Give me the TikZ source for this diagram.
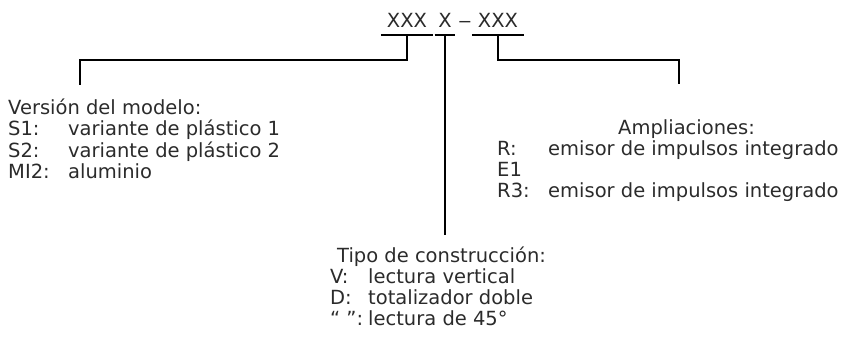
\documentclass[tikz,border=0pt]{standalone}
\usepackage{fontspec}
\setmainfont{DejaVu Sans}
\usepackage{array}
\usetikzlibrary{positioning}
\definecolor{codeInk}{HTML}{2B2B2B}

\begin{document}
\begin{tikzpicture}[x=1pt,y=-1pt,font=\fontsize{19.5}{21}\selectfont,
    bar/.style={line width=2pt},
    part/.style={anchor=base,inner xsep=6pt,inner ysep=8pt,text=codeInk},
    info/.style={anchor=base west,inner sep=0pt,text=codeInk}]
  \useasboundingbox (0,0) rectangle (848,341);
  % type code, one node per part
  \node[part] (model) at (407,27) {XXX};
  \node[part,inner xsep=3.5pt] (build) at (445,27) {X};
  \node[part,inner xsep=0pt] (dash) at (465,27) {\scalebox{1.4}[1]{--}};
  \node[part] (ext) at (498,27) {XXX};
  \draw[bar] (model.south west) -- (model.south east);
  \draw[bar] (build.south west) -- (build.south east);
  \draw[bar] (ext.south west) -- (ext.south east);
  % brackets down to the explanations
  \coordinate (modelfoot) at (80,85);
  \coordinate (buildfoot) at (445,235);
  \coordinate (extfoot) at (679,84);
  \draw[bar] (model.south) -- ++(0,25) -| (modelfoot);
  \draw[bar] (build.south) -- (buildfoot);
  \draw[bar] (ext.south) -- ++(0,25) -| (extfoot);
  % explanations
  \node[info] (modelinfo) at (8,114) {\begin{tabular}[t]{@{}p{60pt}@{}l@{}}
      \multicolumn{2}{@{}l@{}}{Versión del modelo:}\\
      S1: & variante de plástico 1\\
      S2: & variante de plástico 2\\
      MI2: & aluminio
    \end{tabular}};
  \node[info] (extinfo) at (497,134) {\begin{tabular}[t]{@{}p{51pt}@{}l@{}}
      \multicolumn{2}{@{\hspace{121pt}}l@{}}{Ampliaciones:}\\
      R: & emisor de impulsos integrado\\
      E1 & \\
      R3: & emisor de impulsos integrado
    \end{tabular}};
  \node[info] (buildinfo) at (330,262) {\begin{tabular}[t]{@{}p{38pt}@{}l@{}}
      \multicolumn{2}{@{\hspace{7pt}}l@{}}{Tipo de construcción:}\\
      V: & lectura vertical\\
      D: & totalizador doble\\
      “ ”: & lectura de 45°
    \end{tabular}};
\end{tikzpicture}
\end{document}
